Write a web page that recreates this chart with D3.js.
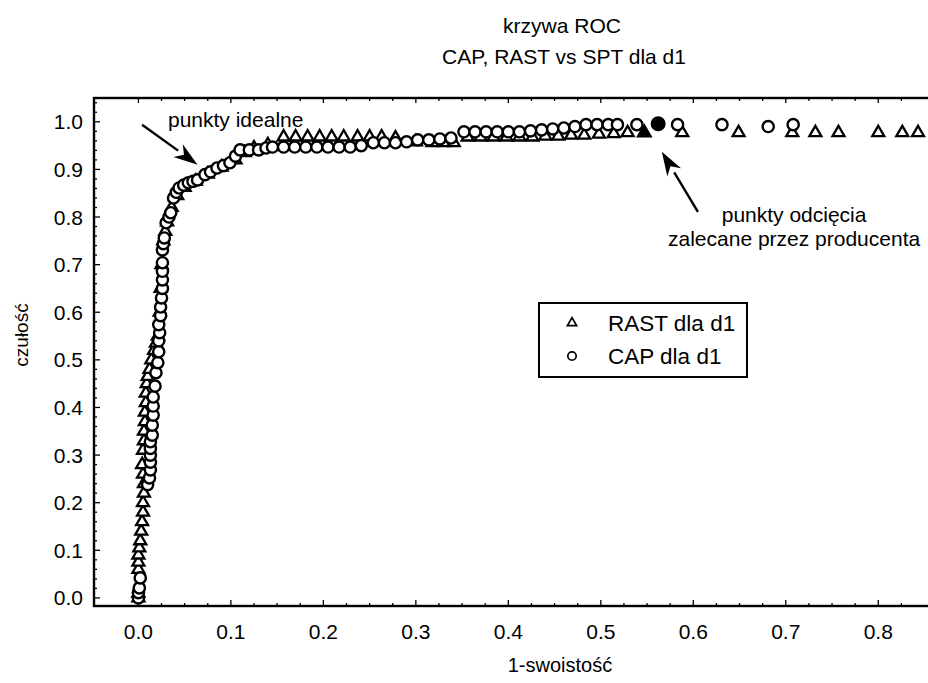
<!DOCTYPE html>
<html>
<head>
<meta charset="utf-8">
<script src="https://cdn.jsdelivr.net/npm/d3@7"></script>
<style>
	body { margin: 0; background: #fff; }
	svg text { font-family: "Liberation Sans", Arial, sans-serif; fill: #000; }
</style>
</head>
<body>
<svg id="roc" width="928" height="683"></svg>
<script>
// CAP dla d1 (kolka)
var capX = [0.000,0.000,0.001,0.002,0.010,0.012,0.013,0.013,0.013,0.013,0.013,0.015,0.015,0.016,0.016,0.016,0.018,0.019,0.021,0.022,
	0.022,0.023,0.022,0.024,0.024,0.025,0.026,0.026,0.026,0.026,0.026,0.027,0.028,0.030,0.033,0.035,0.038,0.041,0.044,0.049,
	0.054,0.059,0.064,0.072,0.078,0.085,0.092,0.099,0.105,0.110,0.120,0.130,0.138,0.145,0.157,0.169,0.181,0.193,0.205,0.217,
	0.229,0.241,0.254,0.266,0.278,0.290,0.302,0.314,0.326,0.338,0.352,0.364,0.376,0.388,0.400,0.412,0.424,0.436,0.448,0.460,
	0.472,0.484,0.496,0.508,0.518,0.539,0.583,0.631,0.681,0.708];
var capY = [0.000,0.011,0.021,0.042,0.238,0.252,0.269,0.285,0.300,0.314,0.328,0.342,0.363,0.384,0.403,0.422,0.445,0.473,0.494,0.517,
	0.540,0.557,0.574,0.593,0.611,0.630,0.650,0.668,0.686,0.704,0.731,0.744,0.756,0.788,0.800,0.809,0.840,0.852,0.861,0.867,
	0.872,0.875,0.878,0.889,0.895,0.903,0.908,0.914,0.928,0.941,0.941,0.941,0.945,0.947,0.947,0.947,0.947,0.947,0.947,0.947,
	0.947,0.950,0.956,0.956,0.956,0.958,0.962,0.962,0.964,0.966,0.979,0.979,0.979,0.979,0.979,0.979,0.981,0.983,0.985,0.987,
	0.990,0.994,0.994,0.994,0.994,0.994,0.994,0.994,0.990,0.994];

// RAST dla d1 (trojkaty)
var rastX = [0.000,0.000,0.000,0.000,0.000,0.001,0.002,0.003,0.004,0.005,0.005,0.006,0.006,0.005,0.004,0.005,0.006,0.006,0.007,0.007,
	0.008,0.008,0.009,0.010,0.012,0.014,0.017,0.019,0.021,0.023,0.024,0.025,0.027,0.029,0.031,0.036,0.042,0.050,0.062,0.075,
	0.090,0.105,0.115,0.125,0.140,0.157,0.170,0.183,0.196,0.209,0.222,0.237,0.250,0.263,0.278,0.300,0.318,0.330,0.341,0.356,
	0.370,0.384,0.398,0.412,0.426,0.440,0.454,0.468,0.482,0.498,0.514,0.529,0.588,0.649,0.707,0.732,0.757,0.800,0.826,0.843];
var rastY = [0.000,0.010,0.060,0.075,0.090,0.105,0.120,0.140,0.160,0.180,0.200,0.220,0.240,0.260,0.280,0.310,0.330,0.350,0.370,0.390,
	0.410,0.430,0.450,0.465,0.480,0.500,0.520,0.535,0.550,0.600,0.650,0.700,0.750,0.770,0.790,0.820,0.845,0.862,0.875,0.890,
	0.905,0.920,0.935,0.945,0.952,0.968,0.968,0.968,0.968,0.968,0.968,0.968,0.968,0.968,0.966,0.958,0.956,0.956,0.956,0.968,
	0.968,0.968,0.968,0.968,0.968,0.970,0.970,0.972,0.972,0.974,0.975,0.977,0.977,0.977,0.977,0.977,0.977,0.977,0.977,0.977];

// punkty odciecia zalecane przez producenta (zamalowane)
var capCut = [0.562, 0.996];
var rastCut = [0.547, 0.977];

var xTicks = [0.0,0.1,0.2,0.3,0.4,0.5,0.6,0.7,0.8];
var yTicks = [0.0,0.1,0.2,0.3,0.4,0.5,0.6,0.7,0.8,0.9,1.0];

var svg = d3.select("#roc");

var x = d3.scaleLinear().domain([-0.048, 0.87]).range([94, 943]);
var y = d3.scaleLinear().domain([-0.017, 1.05]).range([606, 98]);

// ramka wykresu (prawa krawedz poza obrazem)
svg.append("rect")
	.attr("x", x.range()[0]).attr("y", y.range()[1])
	.attr("width", x.range()[1] - x.range()[0])
	.attr("height", y.range()[0] - y.range()[1])
	.attr("fill", "none").attr("stroke", "#000").attr("stroke-width", 2.4);

// podzialki
var minorX = d3.range(0, 34).map(function(i) { return i * 0.025; });
var gx = svg.append("g");
gx.selectAll(".mx").data(minorX)
	.enter().append("line")
	.attr("x1", function(d) { return x(d); }).attr("x2", function(d) { return x(d); })
	.attr("y1", y.range()[0]).attr("y2", function(d, i) { return y.range()[0] - (i % 4 == 0 ? 6 : 3); })
	.attr("stroke", "#000").attr("stroke-width", 1.3);
gx.selectAll(".mt").data(minorX)
	.enter().append("line")
	.attr("x1", function(d) { return x(d); }).attr("x2", function(d) { return x(d); })
	.attr("y1", y.range()[1]).attr("y2", function(d, i) { return y.range()[1] + (i % 4 == 0 ? 5 : 3); })
	.attr("stroke", "#000").attr("stroke-width", 1.3);
gx.selectAll("text").data(xTicks).enter().append("text")
	.attr("x", function(d) { return x(d); })
	.attr("y", 639)
	.attr("text-anchor", "middle")
	.style("font-size", "21px")
	.text(function(d) { return d.toFixed(1); });

var gy = svg.append("g");
gy.selectAll("line").data(d3.range(0, 53).map(function(i) { return i * 0.02; }))
	.enter().append("line")
	.attr("x1", x.range()[0]).attr("x2", function(d, i) { return x.range()[0] + (i % 5 == 0 ? 6 : 3); })
	.attr("y1", function(d) { return y(d); }).attr("y2", function(d) { return y(d); })
	.attr("stroke", "#000").attr("stroke-width", 1.3);
gy.selectAll("text").data(yTicks).enter().append("text")
	.attr("x", 83)
	.attr("y", function(d) { return y(d) + 7.5; })
	.attr("text-anchor", "end")
	.style("font-size", "21px")
	.text(function(d) { return d.toFixed(1); });

// tytul i opisy osi
svg.append("text").attr("x", 562).attr("y", 33).attr("text-anchor", "middle")
	.style("font-size", "21px").text("krzywa ROC");
svg.append("text").attr("x", 564).attr("y", 64).attr("text-anchor", "middle")
	.style("font-size", "21px").text("CAP, RAST vs SPT dla d1");
svg.append("text").attr("x", 560).attr("y", 672).attr("text-anchor", "middle")
	.style("font-size", "20px").text("1-swoistość");
svg.append("text").attr("transform", "translate(28,335) rotate(-90)").attr("text-anchor", "middle")
	.style("font-size", "19px").text("czułość");

// serie
var tri = d3.symbol().type(d3.symbolTriangle).size(62);
var plot = svg.append("g");

plot.selectAll(".rast").data(rastX).enter().append("path")
	.attr("class", "rast")
	.attr("d", tri)
	.attr("transform", function(d, i) { return "translate(" + x(d) + "," + y(rastY[i]) + ")"; })
	.attr("fill", "#fff").attr("stroke", "#000").attr("stroke-width", 2.3);

plot.selectAll(".cap").data(capX).enter().append("circle")
	.attr("class", "cap")
	.attr("cx", function(d) { return x(d); })
	.attr("cy", function(d, i) { return y(capY[i]); })
	.attr("r", 5.6)
	.attr("fill", "#fff").attr("stroke", "#000").attr("stroke-width", 2.4);

plot.append("path")
	.attr("d", d3.symbol().type(d3.symbolTriangle).size(85))
	.attr("transform", "translate(" + x(rastCut[0]) + "," + y(rastCut[1]) + ")")
	.attr("fill", "#000").attr("stroke", "#000").attr("stroke-width", 1.5);
plot.append("circle")
	.attr("cx", x(capCut[0])).attr("cy", y(capCut[1])).attr("r", 7.5)
	.attr("fill", "#000");

// strzalki z opisami
function arrow(x0, y0, x1, y1) {
	var px0 = x(x0), py0 = y(y0), px1 = x(x1), py1 = y(y1);
	var a = Math.atan2(py1 - py0, px1 - px0), L = 24, W = 8;
	var bx = px1 - L * Math.cos(a), by = py1 - L * Math.sin(a);
	svg.append("line").attr("x1", px0).attr("y1", py0).attr("x2", bx).attr("y2", by)
		.attr("stroke", "#000").attr("stroke-width", 2.4);
	svg.append("path")
		.attr("d", "M" + px1 + "," + py1 +
			"L" + (bx + W * Math.sin(a)) + "," + (by - W * Math.cos(a)) +
			"L" + (px1 - 0.7 * L * Math.cos(a)) + "," + (py1 - 0.7 * L * Math.sin(a)) +
			"L" + (bx - W * Math.sin(a)) + "," + (by + W * Math.cos(a)) + "Z")
		.attr("fill", "#000");
}
arrow(0.004, 0.994, 0.064, 0.910);
arrow(0.605, 0.811, 0.566, 0.937);

svg.append("text").attr("x", x(0.032)).attr("y", y(0.99))
	.style("font-size", "21px").text("punkty idealne");
svg.append("text").attr("x", x(0.709)).attr("y", y(0.79)).attr("text-anchor", "middle")
	.style("font-size", "21px").text("punkty odcięcia");
svg.append("text").attr("x", x(0.709)).attr("y", y(0.739)).attr("text-anchor", "middle")
	.style("font-size", "21px").text("zalecane przez producenta");

// legenda
var leg = svg.append("g").attr("transform", "translate(539,303)");
leg.append("rect").attr("width", 208).attr("height", 74)
	.attr("fill", "#fff").attr("stroke", "#000").attr("stroke-width", 2);
leg.append("path").attr("d", d3.symbol().type(d3.symbolTriangle).size(38))
	.attr("transform", "translate(33,20)")
	.attr("fill", "#fff").attr("stroke", "#000").attr("stroke-width", 1.7);
leg.append("circle").attr("cx", 33).attr("cy", 53).attr("r", 4.2)
	.attr("fill", "#fff").attr("stroke", "#000").attr("stroke-width", 1.7);
leg.append("text").attr("x", 69).attr("y", 28).style("font-size", "22.5px").text("RAST dla d1");
leg.append("text").attr("x", 69).attr("y", 61).style("font-size", "22.5px").text("CAP dla d1");
</script>
</body>
</html>
